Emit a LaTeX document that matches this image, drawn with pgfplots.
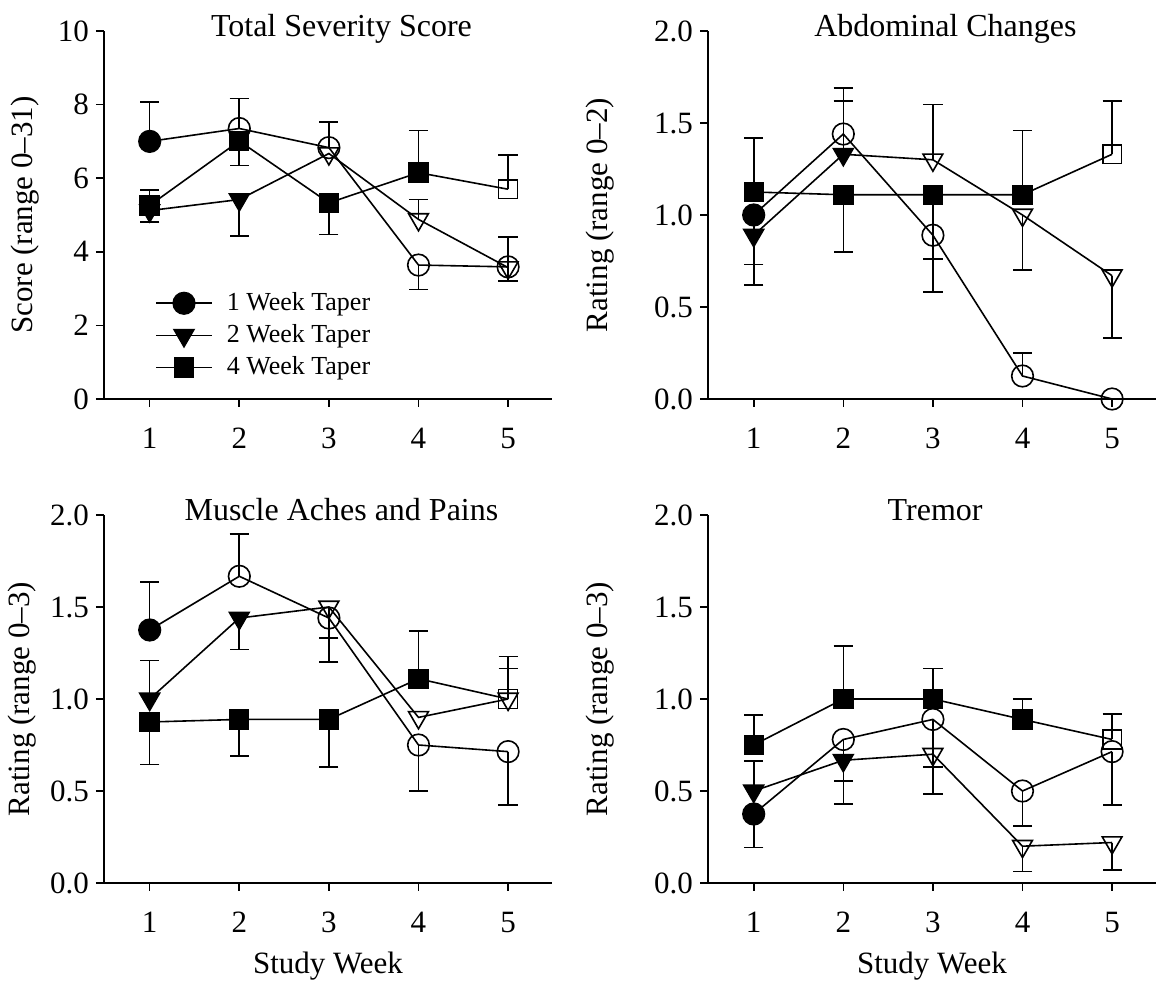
\documentclass[border=0pt]{standalone}
\usepackage{fontspec}
\setmainfont{Liberation Serif}
\usepackage{pgfplots}
\pgfplotsset{compat=1.18}

\pgfplotsset{
  panel/.style={
    scale only axis, width=224pt, height=184pt,
    xmin=0.49, xmax=5.49, xtick={1,2,3,4,5},
    axis x line*=bottom, axis y line*=left,
    axis line style={line width=1.4pt, -},
    tick align=outside, major tick length=4pt,
    tick style={line width=0.8pt, black},
    /pgf/number format/assume math mode=true,
    tick label style={font=\fontsize{15.5}{18}\selectfont},
    xticklabel style={yshift=-7pt},
    label style={font=\fontsize{15.5}{18}\selectfont},
    title style={font=\fontsize{16}{19}\selectfont, at={(axis description cs:#1,1)}, anchor=base, yshift=-9pt},
    clip=false,
  },
  panel/.default=0.53,
  dec/.style={yticklabel style={/pgf/number format/.cd, fixed, fixed zerofill, precision=1}},
  ser/.style={black, line width=0.8pt, scatter, point meta=explicit symbolic, forget plot},
  circ/.style={ser, mark size=5.4pt, scatter/classes={f={mark=*}, o={mark=o}}},
  tri/.style={ser, mark size=5.7pt, mark options={rotate=180}, scatter/classes={f={mark=triangle*}, o={mark=triangle}}},
  sq/.style={ser, mark size=4.7pt, scatter/classes={f={mark=square*}, o={mark=square}}},
  % error bars only: no line, no marks
  err/.style={draw=none, mark=none, forget plot,
    error bars/.cd, y dir=#1, y explicit,
    error bar style={draw=black, solid, line width=0.8pt},
    error mark options={draw=black, rotate=90, mark size=4.8pt, line width=0.8pt}},
}

\begin{document}
\begin{tikzpicture}
\useasboundingbox (0pt,0pt) rectangle (578pt,495pt);

% Total Severity Score
\begin{axis}[panel, at={(52pt,295.5pt)}, anchor=south west,
  ymin=0, ymax=10, ytick={0,2,...,10},
  title={Total Severity Score},
  ylabel={Score (range 0--31)},
  ylabel style={at={(axis description cs:-0.176,0.5)}, anchor=center},
  legend style={draw=none, fill=none, at={(axis description cs:0.1,0.04)}, anchor=south west,
    font=\fontsize{13}{15.5}\selectfont, row sep=3.5pt, nodes={inner sep=1pt},
    /tikz/every odd column/.append style={column sep=6pt}},
  legend cell align=left,
  legend image code/.code={\draw[mark repeat=2, mark phase=2] plot coordinates {(0pt,0pt) (14pt,0pt) (28pt,0pt)};},
]
\addplot[err=plus] coordinates {
  (1,7.00) +- (0,1.07) (2,7.35) +- (0,0.82) (3,6.83) +- (0,0.70)
  (1,5.26) +- (0,0.42) (4,6.15) +- (0,1.15) (5,5.70) +- (0,0.93)
  (4,4.88) +- (0,0.54) (5,3.57) +- (0,0.83)
};
\addplot[err=minus] coordinates {
  (1,5.12) +- (0,0.31) (2,5.42) +- (0,0.99) (2,7.01) +- (0,0.66)
  (3,5.33) +- (0,0.86) (4,3.64) +- (0,0.67) (5,3.59) +- (0,0.39)
};
\addplot[circ] table[meta=c] {
x y c
1 7.00 f
2 7.35 o
3 6.83 o
4 3.64 o
5 3.59 o
};
\addplot[tri] table[meta=c] {
x y c
1 5.12 f
2 5.42 f
3 6.67 o
4 4.88 o
5 3.57 o
};
\addplot[sq] table[meta=c] {
x y c
1 5.26 f
2 7.01 f
3 5.33 f
4 6.15 f
5 5.70 o
};
\addlegendimage{black, line width=0.8pt, mark=*, mark size=5.4pt}
\addlegendentry{1 Week Taper}
\addlegendimage{black, line width=0.8pt, mark=triangle*, mark size=5.7pt, mark options={rotate=180}}
\addlegendentry{2 Week Taper}
\addlegendimage{black, line width=0.8pt, mark=square*, mark size=4.7pt}
\addlegendentry{4 Week Taper}
\end{axis}

% Abdominal Changes
\begin{axis}[panel, dec, at={(354pt,295.5pt)}, anchor=south west,
  ymin=0, ymax=2, ytick={0,0.5,...,2},
  title={Abdominal Changes},
  ylabel={Rating (range 0--2)},
  ylabel style={at={(axis description cs:-0.241,0.5)}, anchor=center},
]
\addplot[err=plus] coordinates {
  (1,1.125) +- (0,0.295) (2,1.44) +- (0,0.18) (2,1.33) +- (0,0.36)
  (3,1.30) +- (0,0.30) (4,1.11) +- (0,0.35) (5,1.33) +- (0,0.29)
  (4,0.125) +- (0,0.125)
};
\addplot[err=minus] coordinates {
  (1,1.00) +- (0,0.38) (1,0.89) +- (0,0.16) (2,1.11) +- (0,0.31)
  (3,1.11) +- (0,0.53) (3,0.89) +- (0,0.13) (4,1.00) +- (0,0.30)
  (5,0.67) +- (0,0.34)
};
\addplot[circ] table[meta=c] {
x y c
1 1.00 f
2 1.44 o
3 0.89 o
4 0.125 o
5 0.00 o
};
\addplot[tri] table[meta=c] {
x y c
1 0.89 f
2 1.33 f
3 1.30 o
4 1.00 o
5 0.67 o
};
\addplot[sq] table[meta=c] {
x y c
1 1.125 f
2 1.11 f
3 1.11 f
4 1.11 f
5 1.33 o
};
\end{axis}

% Muscle Aches and Pains
\begin{axis}[panel, dec, at={(52pt,53.5pt)}, anchor=south west,
  ymin=0, ymax=2, ytick={0,0.5,...,2},
  title={Muscle Aches and Pains},
  ylabel={Rating (range 0--3)},
  ylabel style={at={(axis description cs:-0.183,0.5)}, anchor=center},
  xlabel={Study Week},
  xlabel style={at={(axis description cs:0.5,0)}, anchor=base, yshift=-45pt},
]
\addplot[err=plus] coordinates {
  (1,1.375) +- (0,0.26) (2,1.667) +- (0,0.23) (1,1.00) +- (0,0.21)
  (4,1.11) +- (0,0.26) (5,1.00) +- (0,0.23) (5,1.00) +- (0,0.166)
};
\addplot[err=minus] coordinates {
  (2,1.44) +- (0,0.17) (3,1.44) +- (0,0.11) (3,1.50) +- (0,0.30)
  (1,0.875) +- (0,0.23) (2,0.889) +- (0,0.20) (3,0.889) +- (0,0.26)
  (4,0.75) +- (0,0.25) (5,0.714) +- (0,0.29)
};
\addplot[circ] table[meta=c] {
x y c
1 1.375 f
2 1.667 o
3 1.44 o
4 0.75 o
5 0.714 o
};
\addplot[tri] table[meta=c] {
x y c
1 1.00 f
2 1.44 f
3 1.50 o
4 0.90 o
5 1.00 o
};
\addplot[sq] table[meta=c] {
x y c
1 0.875 f
2 0.889 f
3 0.889 f
4 1.11 f
5 1.00 o
};
\end{axis}

% Tremor
\begin{axis}[panel=0.507, dec, at={(354pt,53.5pt)}, anchor=south west,
  ymin=0, ymax=2, ytick={0,0.5,...,2},
  title={Tremor},
  ylabel={Rating (range 0--3)},
  ylabel style={at={(axis description cs:-0.241,0.5)}, anchor=center},
  xlabel={Study Week},
  xlabel style={at={(axis description cs:0.5,0)}, anchor=base, yshift=-45pt},
]
\addplot[err=plus] coordinates {
  (1,0.75) +- (0,0.163) (2,1.00) +- (0,0.287) (3,1.00) +- (0,0.166)
  (4,0.889) +- (0,0.111) (5,0.78) +- (0,0.14) (1,0.50) +- (0,0.163)
};
\addplot[err=minus] coordinates {
  (1,0.375) +- (0,0.182) (2,0.78) +- (0,0.225) (2,0.667) +- (0,0.237)
  (3,0.889) +- (0,0.26) (3,0.70) +- (0,0.216) (4,0.50) +- (0,0.19)
  (5,0.714) +- (0,0.29) (4,0.20) +- (0,0.137) (5,0.22) +- (0,0.148)
};
\addplot[circ] table[meta=c] {
x y c
1 0.375 f
2 0.78 o
3 0.889 o
4 0.50 o
5 0.714 o
};
\addplot[tri] table[meta=c] {
x y c
1 0.50 f
2 0.667 f
3 0.70 o
4 0.20 o
5 0.22 o
};
\addplot[sq] table[meta=c] {
x y c
1 0.75 f
2 1.00 f
3 1.00 f
4 0.889 f
5 0.78 o
};
\end{axis}
\end{tikzpicture}
\end{document}
